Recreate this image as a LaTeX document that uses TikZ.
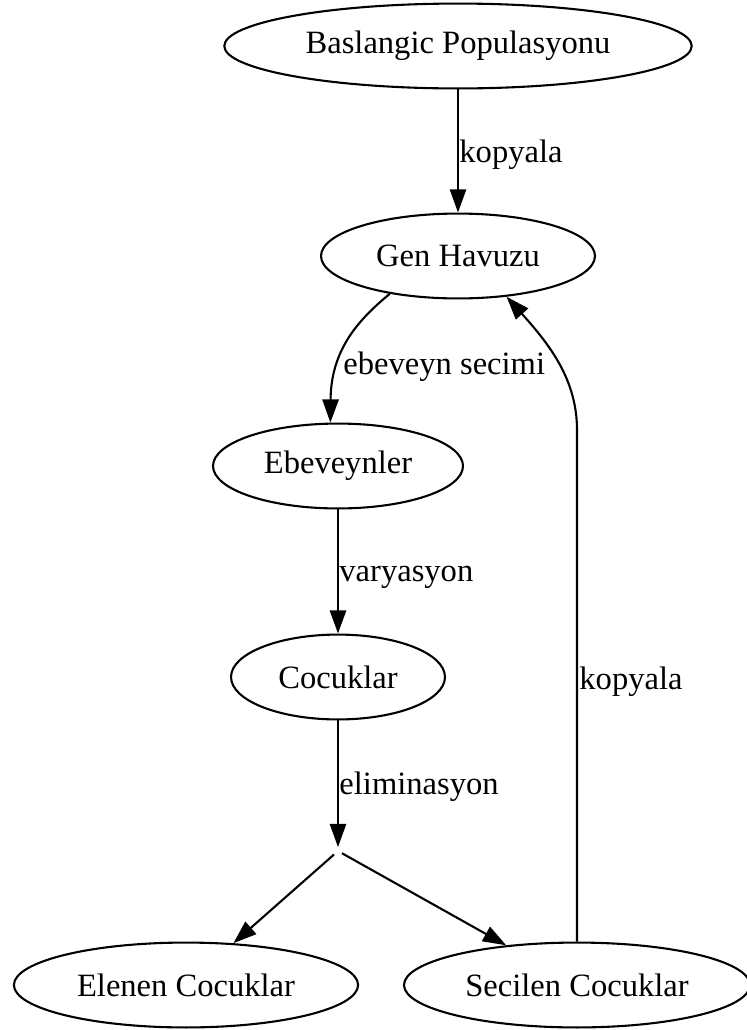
\documentclass[tikz,border=0pt]{standalone}
\usepackage{fontspec}
\setmainfont{Liberation Serif}
\usetikzlibrary{arrows.meta,shapes.geometric}
\begin{document}
\begin{tikzpicture}[x=0.43pt,y=-0.43pt,
  state/.style={ellipse, draw, line width=0.9pt, inner sep=0pt,
    minimum height=36.5pt, font=\fontsize{14}{16}\selectfont},
  lbl/.style={anchor=west, inner sep=0pt, font=\fontsize{14}{16}\selectfont},
  flow/.style={line width=0.9pt, -{Triangle[length=10pt,width=7pt]}}]
\useasboundingbox (0,0) rectangle (747,1030);

% population states
\node[state, minimum width=201pt]   (A)  at (458,46)  {Baslangic Populasyonu};
\node[state, minimum width=117.8pt] (B)  at (458,256) {Gen Havuzu};
\node[state, minimum width=107.5pt] (E)  at (338,466) {Ebeveynler};
\node[state, minimum width=92pt]    (C)  at (338,677) {Cocuklar};
\node[inner sep=0pt, minimum size=3pt] (P) at (338,851) {};
\node[state, minimum width=148pt]   (El) at (186,985) {Elenen Cocuklar};
\node[state, minimum width=148.8pt] (S)  at (577,985) {Secilen Cocuklar};

% transitions
\draw[flow] (A) -- (B);
\draw[flow] (B.209) .. controls (358,320) and (331,350) .. (E.100);
\draw[flow] (E) -- (C);
\draw[flow] (C) -- (P);
\draw[flow] (P) -- (El);
\draw[flow] (P) -- (S);
\coordinate (bend) at (S.north |- 0,430);
\coordinate (bendc) at (S.north |- 0,380);
\draw[flow] (S.north) -- (bend) .. controls (bendc) and (550,345) .. (B.320);

% transition labels
\node[lbl] (l1) at (459,155) {kopyala};
\node[lbl] (l2) at (343,367) {ebeveyn secimi};
\node[lbl] (l3) at (339,577) {varyasyon};
\node[lbl] (l4) at (339,787) {eliminasyon};
\node[lbl] (l5) at (579,682) {kopyala};
\end{tikzpicture}
\end{document}
